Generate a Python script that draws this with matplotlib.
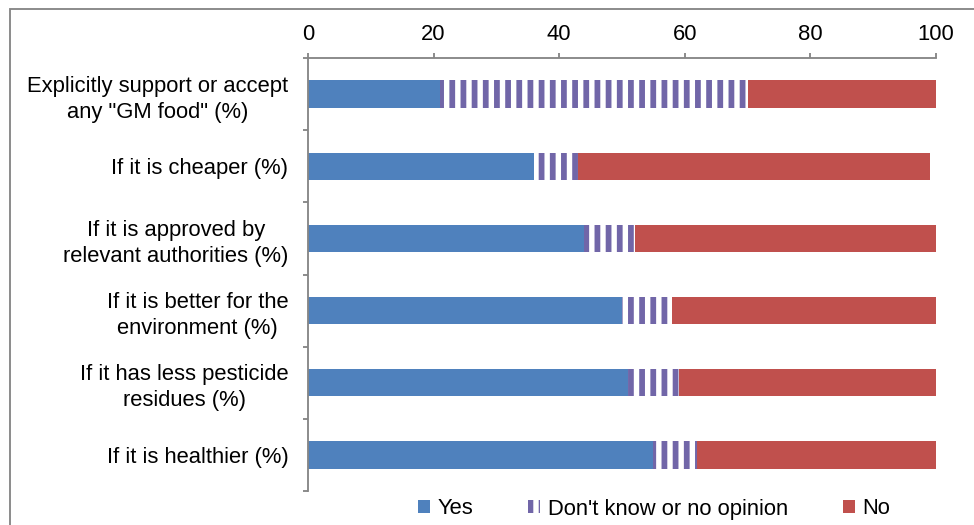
import matplotlib
matplotlib.use("Agg")
import matplotlib.pyplot as plt
from matplotlib.patches import Patch, Rectangle
from matplotlib.ticker import FixedLocator

DPI = 134

categories = [
    'Explicitly support or accept\nany "GM food" (%)',
    'If it is cheaper (%)',
    'If it is approved by\nrelevant authorities (%)',
    'If it is better for the\nenvironment (%)',
    'If it has less pesticide\nresidues (%)',
    'If it is healthier (%)',
]
yes_vals = [21, 36, 44, 50, 51, 55]
dk_vals = [49, 7, 8, 8, 8, 7]
no_vals = [30, 56, 48, 42, 41, 38]
x_ticks = [0, 20, 40, 60, 80, 100]

YES_COL = '#4F81BD'
DK_COL = '#7166A8'
NO_COL = '#C0504D'
GRAY = '#868686'
HATCH_LW = 3.1

plt.rcParams['font.family'] = ['Liberation Sans', 'DejaVu Sans']
plt.rcParams['font.size'] = 11.8
plt.rcParams['hatch.linewidth'] = HATCH_LW

fig = plt.figure(figsize=(974 / DPI, 525 / DPI), dpi=DPI)
ax = fig.add_axes([308 / 974, 1 - 491 / 525, (936 - 308) / 974, (491 - 58) / 525])

y = list(range(len(categories)))
h = 0.38
dk_left = yes_vals
no_left = [a + b for a, b in zip(yes_vals, dk_vals)]

ax.barh(y, yes_vals, height=h, color=YES_COL, linewidth=0)
dk_bars = ax.barh(y, dk_vals, left=dk_left, height=h, facecolor='white',
                  edgecolor=DK_COL, hatch='||', linewidth=0)
ax.barh(y, no_vals, left=no_left, height=h, color=NO_COL, linewidth=0)
for p in dk_bars:
    if hasattr(p, 'set_hatch_linewidth'):
        p.set_hatch_linewidth(HATCH_LW)

ax.set_xlim(0, 100)
ax.set_ylim(len(categories) - 0.5, -0.5)

ax.xaxis.tick_top()
ax.set_xticks(x_ticks)
ax.tick_params(axis='x', which='major', direction='out', length=2.7,
               width=1.0, color=GRAY, pad=4.5, labelsize=11.8)

ax.set_yticks(y)
ax.set_yticklabels(categories, multialignment='center', linespacing=1.32)
ax.yaxis.set_minor_locator(FixedLocator([i - 0.5 for i in range(len(categories) + 1)]))
ax.tick_params(axis='y', which='major', length=0, pad=10.5, labelsize=11.8)
ax.tick_params(axis='y', which='minor', direction='out', length=2.7,
               width=1.0, color=GRAY)

for side in ['right', 'bottom']:
    ax.spines[side].set_visible(False)
for side in ['top', 'left']:
    ax.spines[side].set_color(GRAY)
    ax.spines[side].set_linewidth(1.0)

# outer chart frame, cut by the image edges
fig.patches.append(Rectangle((10 / 974, -0.2), 2, 1 - 9 / 525 + 0.2,
                             transform=fig.transFigure, fill=False,
                             edgecolor=GRAY, linewidth=1.0))

dk_handle = Patch(facecolor='white', edgecolor=DK_COL, hatch='||', linewidth=0)
if hasattr(dk_handle, 'set_hatch_linewidth'):
    dk_handle.set_hatch_linewidth(HATCH_LW)
handles = [
    Patch(facecolor=YES_COL, linewidth=0),
    dk_handle,
    Patch(facecolor=NO_COL, linewidth=0),
]
fig.legend(handles, ['Yes', "Don't know or no opinion", 'No'],
           loc='center', bbox_to_anchor=(654 / 974, 1 - 509 / 525),
           ncol=3, frameon=False, handlelength=0.55, handleheight=0.55,
           handletextpad=0.35, columnspacing=2.5, fontsize=11.8,
           borderpad=0, borderaxespad=0)

fig.savefig('out.png', dpi=DPI)
